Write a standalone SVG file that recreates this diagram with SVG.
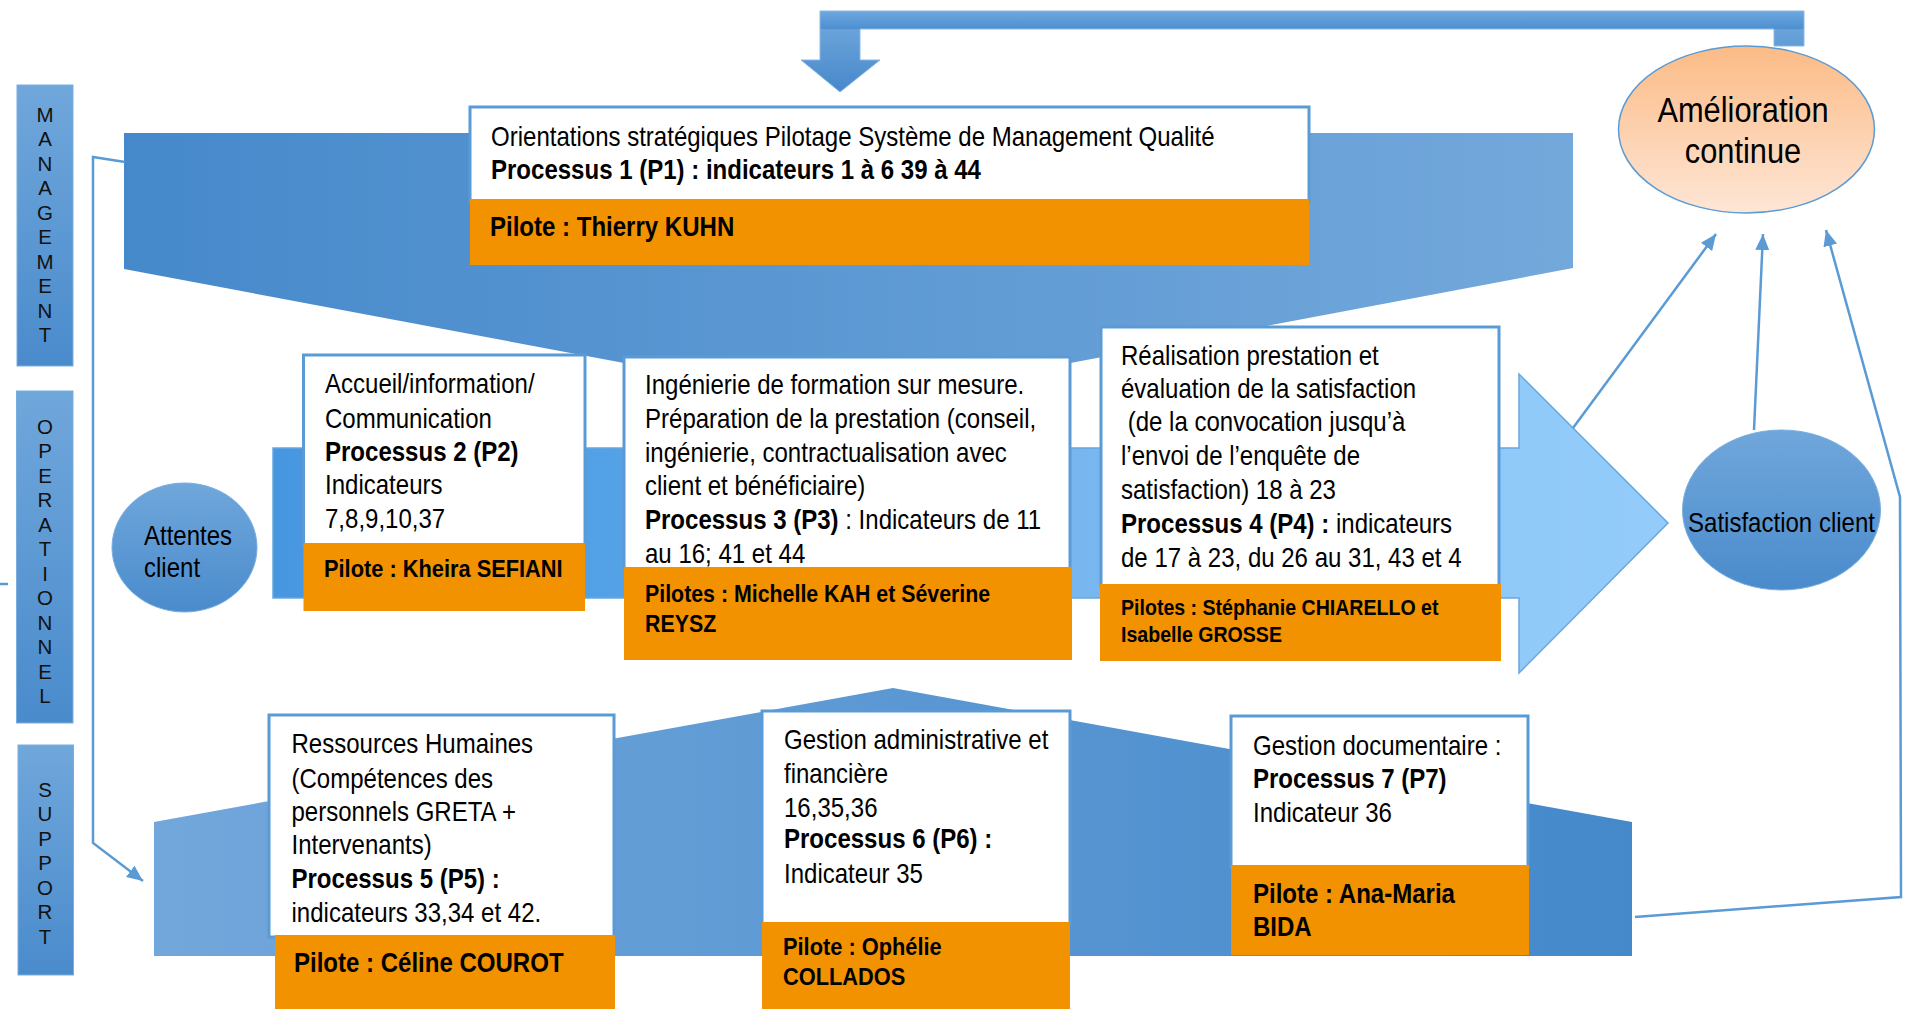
<svg xmlns="http://www.w3.org/2000/svg" width="1909" height="1009" viewBox="0 0 1909 1009">
<defs>
<style>
.t{font-family:"Liberation Sans",Arial,sans-serif;font-size:27px;fill:#000}
.b{font-weight:bold}
.side{font-family:"Liberation Sans",Arial,sans-serif;font-size:20.5px;fill:#111;text-anchor:middle}
.box{fill:#fff;stroke:#5b9bd5;stroke-width:3}
.pil{fill:#f29200}
.con{fill:none;stroke:#5b9bd5;stroke-width:2.5}
.bar{fill:url(#gBlueV);stroke:#7aaedf;stroke-width:1}
</style>
<linearGradient id="gMan" gradientUnits="userSpaceOnUse" x1="124" y1="0" x2="1573" y2="0">
<stop offset="0" stop-color="#4689cb"/><stop offset="1" stop-color="#73a8db"/>
</linearGradient>
<linearGradient id="gOp" gradientUnits="userSpaceOnUse" x1="273" y1="0" x2="1668" y2="0">
<stop offset="0" stop-color="#4797e0"/><stop offset="0.23" stop-color="#52a0e6"/><stop offset="0.58" stop-color="#78b6ef"/><stop offset="0.89" stop-color="#90caf9"/><stop offset="1" stop-color="#93ccfa"/>
</linearGradient>
<linearGradient id="gSup" gradientUnits="userSpaceOnUse" x1="154" y1="0" x2="1632" y2="0">
<stop offset="0" stop-color="#72a7db"/><stop offset="1" stop-color="#4589cb"/>
</linearGradient>
<linearGradient id="gBlueV" x1="0" y1="0" x2="0" y2="1">
<stop offset="0" stop-color="#70a7db"/><stop offset="1" stop-color="#4a8bcc"/>
</linearGradient>
<linearGradient id="gTop" gradientUnits="userSpaceOnUse" x1="0" y1="11" x2="0" y2="92">
<stop offset="0" stop-color="#6ea8de"/><stop offset="0.22" stop-color="#4d8fd0"/><stop offset="0.23" stop-color="#6aa3da"/><stop offset="1" stop-color="#4788cb"/>
</linearGradient>
<linearGradient id="gOr" x1="0" y1="0" x2="0" y2="1">
<stop offset="0" stop-color="#fbbb86"/><stop offset="1" stop-color="#fee6d6"/>
</linearGradient>
<marker id="ah" markerUnits="userSpaceOnUse" markerWidth="18" markerHeight="14" refX="16" refY="7" orient="auto">
<path d="M0,0 L16,7 L0,14 Z" fill="#5b9bd5"/>
</marker>
</defs>
<rect x="0" y="0" width="1909" height="1009" fill="#fff"/>

<g id="bands">
<polygon points="124,133 1573,133 1573,268 848,405 124,269" fill="url(#gMan)"/>
<polygon points="273,448 1519,448 1519,374 1668,523 1519,673 1519,598 273,598" fill="url(#gOp)" stroke="#6aa6de" stroke-width="1.5"/>
<polygon points="154,956 154,822 893,688 1632,822 1632,956" fill="url(#gSup)"/>
</g>

<g id="side-management">
<rect class="bar" x="17" y="85" width="56" height="281"/>
<text class="side"><tspan x="45" y="121.5">M</tspan><tspan x="45" y="146">A</tspan><tspan x="45" y="170.5">N</tspan><tspan x="45" y="195">A</tspan><tspan x="45" y="219.5">G</tspan><tspan x="45" y="244">E</tspan><tspan x="45" y="268.5">M</tspan><tspan x="45" y="293">E</tspan><tspan x="45" y="317.5">N</tspan><tspan x="45" y="342">T</tspan></text>
</g>
<g id="side-operationnel">
<rect class="bar" x="16.5" y="391" width="56.5" height="332"/>
<text class="side"><tspan x="45" y="433.5">O</tspan><tspan x="45" y="458">P</tspan><tspan x="45" y="482.5">E</tspan><tspan x="45" y="507">R</tspan><tspan x="45" y="531.5">A</tspan><tspan x="45" y="556">T</tspan><tspan x="45" y="580.5">I</tspan><tspan x="45" y="605">O</tspan><tspan x="45" y="629.5">N</tspan><tspan x="45" y="654">N</tspan><tspan x="45" y="678.5">E</tspan><tspan x="45" y="703">L</tspan></text>
</g>
<g id="side-support">
<rect class="bar" x="18" y="745" width="55.5" height="230"/>
<text class="side"><tspan x="45" y="796.5">S</tspan><tspan x="45" y="821">U</tspan><tspan x="45" y="845.5">P</tspan><tspan x="45" y="870">P</tspan><tspan x="45" y="894.5">O</tspan><tspan x="45" y="919">R</tspan><tspan x="45" y="943.5">T</tspan></text>
</g>

<g id="feedback-arrow">
<path d="M820,11 H1804 V46 H1774 V29 H860 V60 H880 L840,92 L801,60 H820 Z" fill="url(#gTop)" stroke="#8ab8e4" stroke-width="1"/>
</g>

<g id="amelioration">
<ellipse cx="1746.5" cy="129.5" rx="128" ry="83.5" fill="url(#gOr)" stroke="#5b9bd5" stroke-width="1.5"/>
<text class="t" style="font-size:35px;text-anchor:middle" transform="translate(1743,0) scale(0.88,1)"><tspan x="0" y="122">Amélioration</tspan><tspan x="0" y="163">continue</tspan></text>
</g>

<g id="attentes">
<ellipse cx="184.5" cy="547.5" rx="72.5" ry="64.5" fill="url(#gBlueV)" stroke="#7aaedf" stroke-width="1"/>
<text class="t" transform="translate(144,0) scale(0.89,1)"><tspan x="0" y="545">Attentes</tspan><tspan x="0" y="577">client</tspan></text>
</g>

<g id="satisfaction">
<ellipse cx="1781.5" cy="510" rx="99" ry="80" fill="url(#gBlueV)" stroke="#7aaedf" stroke-width="1"/>
<text class="t" style="text-anchor:middle" transform="translate(1781.5,532) scale(0.89,1)">Satisfaction client</text>
</g>

<g id="p1">
<rect class="box" x="470" y="107" width="839" height="95"/>
<rect class="pil" x="470" y="199" width="839" height="66"/>
<text class="t" transform="translate(491,146) scale(0.89,1)"><tspan x="0" y="0">Orientations stratégiques Pilotage Système de Management Qualité</tspan><tspan class="b" x="0" y="33">Processus 1 (P1) : indicateurs 1 à 6 39 à 44</tspan></text>
<text class="t b" transform="translate(490,236) scale(0.89,1)">Pilote : Thierry KUHN</text>
</g>

<g id="p2">
<rect class="box" x="303.5" y="355" width="281.5" height="190"/>
<rect class="pil" x="303.5" y="543" width="281.5" height="68"/>
<text class="t" transform="translate(325,393) scale(0.89,1)"><tspan x="0" y="0">Accueil/information/</tspan><tspan x="0" y="35">Communication</tspan><tspan class="b" x="0" y="68">Processus 2 (P2)</tspan><tspan x="0" y="101">Indicateurs</tspan><tspan x="0" y="135">7,8,9,10,37</tspan></text>
<text class="t b" style="font-size:24.5px" transform="translate(324,577) scale(0.89,1)">Pilote : Kheira SEFIANI</text>
</g>

<g id="p3">
<rect class="box" x="624" y="357" width="446" height="212"/>
<rect class="pil" x="624" y="567" width="448" height="93"/>
<text class="t" transform="translate(645,394) scale(0.89,1)"><tspan x="0" y="0">Ingénierie de formation sur mesure.</tspan><tspan x="0" y="34">Préparation de la prestation (conseil,</tspan><tspan x="0" y="68">ingénierie, contractualisation avec</tspan><tspan x="0" y="101">client et bénéficiaire)</tspan><tspan x="0" y="135"><tspan class="b">Processus 3 (P3)</tspan> : Indicateurs de 11</tspan><tspan x="0" y="169">au 16; 41 et 44</tspan></text>
<text class="t b" style="font-size:24px" transform="translate(645,602) scale(0.89,1)"><tspan x="0" y="0">Pilotes : Michelle KAH et Séverine</tspan><tspan x="0" y="30">REYSZ</tspan></text>
</g>

<g id="p4">
<rect class="box" x="1101" y="327" width="398" height="259"/>
<rect class="pil" x="1100" y="584" width="401" height="77"/>
<text class="t" transform="translate(1121,365) scale(0.89,1)"><tspan x="0" y="0">Réalisation prestation et</tspan><tspan x="0" y="33">évaluation de la satisfaction</tspan><tspan x="0" y="66"> (de la convocation jusqu’à</tspan><tspan x="0" y="100">l’envoi de l’enquête de</tspan><tspan x="0" y="134">satisfaction) 18 à 23</tspan><tspan x="0" y="168"><tspan class="b">Processus 4 (P4) :</tspan> indicateurs</tspan><tspan x="0" y="202">de 17 à 23, du 26 au 31, 43 et 4</tspan></text>
<text class="t b" style="font-size:22px" transform="translate(1121,615) scale(0.89,1)"><tspan x="0" y="0">Pilotes : Stéphanie CHIARELLO et</tspan><tspan x="0" y="27">Isabelle GROSSE</tspan></text>
</g>

<g id="p5">
<rect class="box" x="269" y="715" width="345" height="222"/>
<rect class="pil" x="275" y="935" width="340" height="74"/>
<text class="t" transform="translate(291.5,753) scale(0.89,1)"><tspan x="0" y="0">Ressources Humaines</tspan><tspan x="0" y="35">(Compétences des</tspan><tspan x="0" y="68">personnels GRETA +</tspan><tspan x="0" y="101">Intervenants)</tspan><tspan class="b" x="0" y="135">Processus 5 (P5) :</tspan><tspan x="0" y="169">indicateurs 33,34 et 42.</tspan></text>
<text class="t b" transform="translate(294,972) scale(0.89,1)">Pilote : Céline COUROT</text>
</g>

<g id="p6">
<rect class="box" x="762" y="711" width="308" height="213"/>
<rect class="pil" x="762" y="922" width="308" height="87"/>
<text class="t" transform="translate(784,749) scale(0.89,1)"><tspan x="0" y="0">Gestion administrative et</tspan><tspan x="0" y="34">financière</tspan><tspan x="0" y="68">16,35,36</tspan><tspan class="b" x="0" y="99">Processus 6 (P6) :</tspan><tspan x="0" y="134">Indicateur 35</tspan></text>
<text class="t b" style="font-size:24.5px" transform="translate(783,955) scale(0.89,1)"><tspan x="0" y="0">Pilote : Ophélie</tspan><tspan x="0" y="30">COLLADOS</tspan></text>
</g>

<g id="p7">
<rect class="box" x="1231" y="716" width="297" height="151"/>
<rect class="pil" x="1231" y="865" width="298" height="90"/>
<text class="t" transform="translate(1253,755) scale(0.89,1)"><tspan x="0" y="0">Gestion documentaire :</tspan><tspan class="b" x="0" y="33">Processus 7 (P7)</tspan><tspan x="0" y="67">Indicateur 36</tspan></text>
<text class="t b" transform="translate(1253,902.7) scale(0.89,1)"><tspan x="0" y="0">Pilote : Ana-Maria</tspan><tspan x="0" y="33">BIDA</tspan></text>
</g>

<g id="connectors">
<polyline class="con" points="125,162 93,157 93,843 143,881" marker-end="url(#ah)"/>
<line class="con" x1="0" y1="584" x2="8" y2="584"/>
<line class="con" x1="1573" y1="428" x2="1716" y2="234" marker-end="url(#ah)"/>
<line class="con" x1="1754" y1="430" x2="1763" y2="234" marker-end="url(#ah)"/>
<polyline class="con" points="1635,917 1901,897 1900,497 1826,230" marker-end="url(#ah)"/>
</g>
</svg>
